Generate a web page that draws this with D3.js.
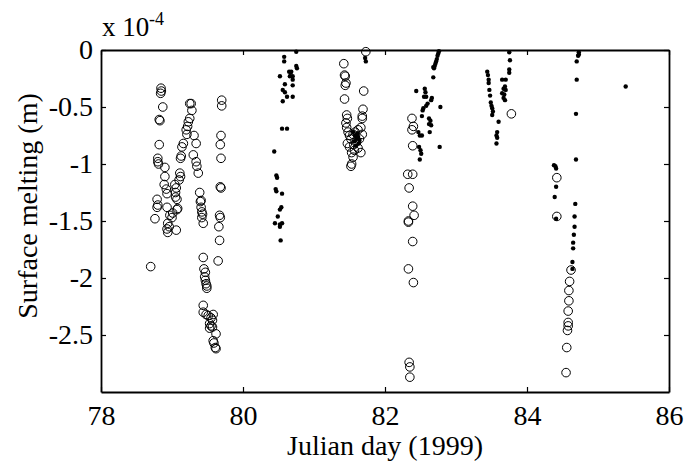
<!DOCTYPE html>
<html>
<head>
<meta charset="utf-8">
<script src="https://cdn.jsdelivr.net/npm/d3@7"></script>
<style>
  body { margin: 0; background: #fff; }
</style>
</head>
<body>
<div id="chart"></div>
<script>
// values are in units of 1e-4 m (see the "x 10^-4" exponent label)
const xTicks = [78, 80, 82, 84, 86];
const yTicks = [0, -0.5, -1, -1.5, -2, -2.5];

// open circles
const openDay = [
  78.845, 78.85, 78.84, 78.87, 78.82, 78.83, 78.82, 78.80, 78.80, 78.81,
  78.90, 78.90, 78.89, 78.92, 78.93, 78.79, 78.80, 78.79, 78.76, 78.70, 78.93,
  79.25, 79.27, 79.28, 79.25, 79.23, 79.22, 79.20, 79.21, 79.16, 79.14,
  79.13, 79.12, 79.11, 79.12, 79.10, 79.04, 79.06, 79.05, 79.05, 79.07,
  78.97, 79.00, 78.94, 78.96, 78.93, 78.94, 79.01, 79.07, 79.08, 79.06,
  79.31, 79.34, 79.30, 79.34, 79.35, 79.37, 79.39, 79.41,
  79.40, 79.41, 79.42, 79.43, 79.42, 79.44,
  79.70, 79.70, 79.69, 79.68, 79.69, 79.68, 79.69, 79.67, 79.68, 79.66, 79.67, 79.65,
  79.44, 79.45, 79.47, 79.46, 79.47, 79.48, 79.49, 79.49,
  79.44, 79.44, 79.48, 79.51, 79.55, 79.58, 79.57, 79.53, 79.55, 79.57, 79.53,
  79.62, 79.58, 79.59, 79.61, 79.62,
  81.73, 81.42, 81.43, 81.44, 81.45, 81.44, 81.70, 81.43, 81.69, 81.68, 81.68,
  81.46, 81.47, 81.45,
  81.46, 81.48, 81.50, 81.52, 81.55, 81.58, 81.62, 81.66, 81.68, 81.64, 81.60,
  81.56, 81.50, 81.47, 81.53, 81.57, 81.62, 81.55, 81.52, 81.53, 81.66,
  82.38, 82.40, 82.38, 82.39, 82.32, 82.39, 82.34, 82.39, 82.41, 82.33, 82.33,
  82.39, 82.33, 82.40, 82.34, 82.35, 82.35,
  83.78,
  84.42, 84.42, 84.62, 84.60, 84.59, 84.59, 84.58, 84.58, 84.58, 84.57, 84.56, 84.55
];
const openVal = [
  -0.335, -0.36, -0.38, -0.5, -0.61, -0.62, -0.83, -0.95, -0.98, -1.0,
  -1.03, -1.11, -1.18, -1.22, -1.26, -1.31, -1.36, -1.38, -1.48, -1.9, -1.38,
  -0.47, -0.47, -0.53, -0.6, -0.63, -0.67, -0.7, -0.74, -0.82, -0.85,
  -0.93, -0.95, -1.08, -1.11, -1.14, -1.18, -1.21, -1.25, -1.29, -1.31,
  -1.45, -1.47, -1.52, -1.55, -1.57, -1.6, -1.43, -1.4, -1.39, -1.58,
  -0.75, -0.82, -0.92, -0.98, -1.02, -1.08, -1.25, -1.32,
  -1.33, -1.38, -1.42, -1.44, -1.47, -1.52,
  -0.44, -0.49, -0.75, -0.83, -0.95, -1.2, -1.21, -1.45, -1.47, -1.55, -1.67, -1.85,
  -1.82, -1.92, -1.95, -1.99, -2.02, -2.05, -2.07, -2.09,
  -2.24, -2.3, -2.32, -2.33, -2.35, -2.32, -2.37, -2.4, -2.42, -2.43, -2.44,
  -2.49, -2.55, -2.57, -2.61, -2.62,
  -0.015, -0.12, -0.22, -0.23, -0.29, -0.31, -0.36, -0.43, -0.52, -0.58, -0.6,
  -0.57, -0.6, -0.64,
  -0.68, -0.72, -0.75, -0.78, -0.74, -0.72, -0.7, -0.68, -0.74, -0.78, -0.8,
  -0.83, -0.85, -0.82, -0.9, -0.88, -0.86, -0.94, -1.02, -1.0, -0.9,
  -0.6, -0.67, -0.7, -0.84, -1.09, -1.09, -1.21, -1.37, -1.45, -1.5, -1.51,
  -1.68, -1.92, -2.04, -2.74, -2.78, -2.87,
  -0.56,
  -1.12, -1.46, -1.93, -2.03, -2.11, -2.2, -2.29, -2.39, -2.42, -2.46, -2.61, -2.83
];

// filled dots
const dotDay = [
  80.75, 80.58, 80.58, 80.75, 80.76, 80.52, 80.65, 80.67, 80.68, 80.70, 80.66,
  80.70, 80.70, 80.59, 80.56, 80.59, 80.70, 80.62, 80.56, 80.55, 80.62, 80.44,
  80.47, 80.48, 80.46, 80.47, 80.55, 80.54, 80.52, 80.49, 80.45, 80.52, 80.55, 80.52, 80.53,
  81.72, 81.73, 81.55, 81.58, 81.60, 81.62, 81.57, 81.63, 81.59, 81.61, 81.64,
  82.76, 82.75, 82.74, 82.73, 82.72, 82.71, 82.70, 82.69, 82.68, 82.68, 82.44,
  82.56, 82.57, 82.55, 82.58, 82.66, 82.65, 82.60, 82.58, 82.54, 82.53, 82.52, 82.78,
  82.62, 82.64, 82.62, 82.65, 82.63, 82.47, 82.49, 82.52, 82.77, 82.48, 82.50, 82.51, 82.49,
  83.75, 83.76, 83.75, 83.75, 83.44, 83.45, 83.46, 83.46, 83.65, 83.70,
  83.69, 83.67, 83.70, 83.65, 83.68, 83.67, 83.69, 83.47, 83.48,
  83.49, 83.50, 83.51, 83.52, 83.51, 83.60, 83.58, 83.57, 83.58, 83.57,
  84.73, 84.73, 84.72, 84.70, 84.70, 84.69, 84.69, 85.39,
  84.38, 84.40, 84.41, 84.41, 84.39, 84.41,
  84.68, 84.67, 84.67, 84.66, 84.65, 84.65, 84.64, 84.64
];
const dotVal = [
  -0.015, -0.06, -0.1, -0.14, -0.16, -0.23, -0.19, -0.2, -0.19, -0.23, -0.23,
  -0.26, -0.31, -0.3, -0.35, -0.37, -0.41, -0.41, -0.45, -0.69, -0.69, -0.89,
  -1.1, -1.12, -1.22, -1.24, -1.26, -1.38, -1.4, -1.46, -1.52, -1.53, -1.52, -1.55, -1.67,
  -0.07, -0.1, -0.72, -0.75, -0.78, -0.76, -0.8, -0.82, -0.84, -0.73, -0.79,
  -0.01, -0.03, -0.05, -0.08, -0.1, -0.12, -0.14, -0.16, -0.15, -0.24, -0.36,
  -0.34, -0.37, -0.41, -0.41, -0.42, -0.44, -0.47, -0.49, -0.51, -0.53, -0.58, -0.5,
  -0.6, -0.62, -0.65, -0.66, -0.72, -0.72, -0.75, -0.75, -0.85, -0.85, -0.88, -0.91, -0.96,
  -0.02, -0.09, -0.17, -0.2, -0.19, -0.22, -0.26, -0.29, -0.26, -0.26,
  -0.32, -0.34, -0.35, -0.38, -0.39, -0.42, -0.44, -0.35, -0.4,
  -0.46, -0.49, -0.51, -0.54, -0.57, -0.63, -0.72, -0.75, -0.77, -0.82,
  -0.02, -0.04, -0.05, -0.1, -0.26, -0.56, -0.96, -0.32,
  -1.01, -1.02, -1.04, -1.2, -1.29, -1.48,
  -1.35, -1.46, -1.55, -1.62, -1.69, -1.74, -1.86, -1.92
];

const W = 685, H = 462;
const margin = { top: 50, right: 16, bottom: 70, left: 101 };
const width = W - margin.left - margin.right;
const height = H - margin.top - margin.bottom;
const FONT = '"Liberation Serif", "Times New Roman", serif';
const FS = 28;

const svg = d3.select('#chart').append('svg')
  .attr('width', W).attr('height', H)
  .style('font-family', FONT)
  .style('background', '#fff');

const g = svg.append('g').attr('transform', `translate(${margin.left},${margin.top})`);

const x = d3.scaleLinear().domain([78, 86]).range([0, width]);
const y = d3.scaleLinear().domain([-3, 0]).range([height, 0]);

// axes with inward ticks on all four sides (matlab box)
const styleAxis = (sel) => {
  sel.selectAll('path.domain').attr('stroke', '#000').attr('stroke-width', 1.8);
  sel.selectAll('.tick line').attr('stroke', '#000').attr('stroke-width', 1.2);
  sel.selectAll('.tick text').attr('fill', '#000').style('font-size', FS + 'px').style('font-family', FONT);
};

g.append('g').attr('transform', `translate(0,${height})`)
  .call(d3.axisBottom(x).tickValues(xTicks).tickSize(-5).tickSizeOuter(0).tickPadding(13).tickFormat(d => String(d)))
  .call(styleAxis);
g.append('g')
  .call(d3.axisTop(x).tickValues(xTicks).tickSize(-5).tickSizeOuter(0).tickFormat(''))
  .call(styleAxis);
g.append('g')
  .call(d3.axisLeft(y).tickValues(yTicks).tickSize(-5).tickSizeOuter(0).tickPadding(8).tickFormat(d => String(d)))
  .call(styleAxis);
g.append('g').attr('transform', `translate(${width},0)`)
  .call(d3.axisRight(y).tickValues(yTicks).tickSize(-5).tickSizeOuter(0).tickFormat(''))
  .call(styleAxis);

// markers
const openPts = openDay.map((d, i) => ({ d, v: openVal[i] }));
const dotPts = dotDay.map((d, i) => ({ d, v: dotVal[i] }));

g.append('g').selectAll('circle').data(openPts).join('circle')
  .attr('cx', p => x(p.d)).attr('cy', p => y(p.v)).attr('r', 4.3)
  .attr('fill', 'none').attr('stroke', '#000').attr('stroke-width', 1);

g.append('g').selectAll('circle').data(dotPts).join('circle')
  .attr('cx', p => x(p.d)).attr('cy', p => y(p.v)).attr('r', 2.2)
  .attr('fill', '#000');

// labels
svg.append('text')
  .attr('x', margin.left + width / 2).attr('y', 455)
  .attr('text-anchor', 'middle').style('font-size', FS + 'px')
  .text('Julian day (1999)');

svg.append('text')
  .attr('transform', `translate(37,206) rotate(-90)`)
  .attr('text-anchor', 'middle').style('font-size', FS + 'px')
  .text('Surface melting (m)');

svg.append('text')
  .attr('x', 102).attr('y', 36).style('font-size', '27px')
  .text('x 10');
svg.append('text')
  .attr('x', 149).attr('y', 25).style('font-size', '18px')
  .text('-4');
</script>
</body>
</html>
